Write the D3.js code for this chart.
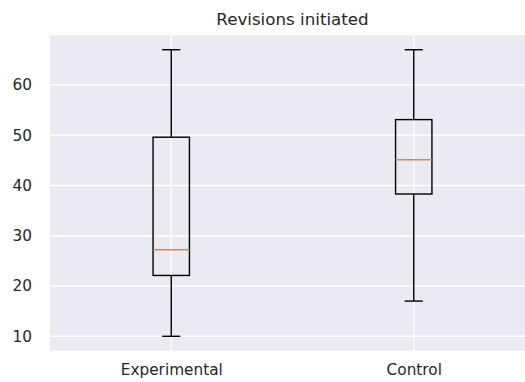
<!DOCTYPE html>
<html>
<head>
<meta charset="utf-8">
<script src="https://cdn.jsdelivr.net/npm/d3@7"></script>
<style>
  body { margin: 0; background: #fff; }
  svg { display: block; font-family: "DejaVu Sans", sans-serif; }
</style>
</head>
<body>
<div id="chart"></div>
<script>
var categories = ["Experimental", "Control"];
var whiskerLow = [10, 17];
var q1 = [22.1, 38.3];
var medians = [27.2, 45.1];
var q3 = [49.6, 53.1];
var whiskerHigh = [67, 67];
var yTicks = [10, 20, 30, 40, 50, 60];

var width = 525,
    height = 382;

var boxes = categories.map(function(c, i) {
    return {name: c, pos: i + 1, lo: whiskerLow[i], q1: q1[i], med: medians[i], q3: q3[i], hi: whiskerHigh[i]};
});

// matplotlib style limits: positions 1..n with 0.5 padding, 5% y margin
var yMin = d3.min(whiskerLow), yMax = d3.max(whiskerHigh);
var pad = (yMax - yMin) * 0.05;

var x = d3.scaleLinear().domain([0.5, categories.length + 0.5]).range([50, 535]);
var y = d3.scaleLinear().domain([yMin - pad, yMax + pad]).range([350.6, 35.4]);

var svg = d3.select("#chart").append("svg")
    .attr("width", width)
    .attr("height", height);

svg.append("rect")
    .attr("x", x.range()[0])
    .attr("y", y.range()[1])
    .attr("width", x.range()[1] - x.range()[0])
    .attr("height", y.range()[0] - y.range()[1])
    .attr("fill", "#eaeaf2");

// grid
svg.append("g").selectAll("line")
    .data(yTicks)
  .enter().append("line")
    .attr("x1", x.range()[0]).attr("x2", x.range()[1])
    .attr("y1", function(d) { return y(d); })
    .attr("y2", function(d) { return y(d); })
    .attr("stroke", "#fff")
    .attr("stroke-width", 1.4);

svg.append("g").selectAll("line")
    .data(boxes)
  .enter().append("line")
    .attr("x1", function(d) { return x(d.pos); })
    .attr("x2", function(d) { return x(d.pos); })
    .attr("y1", y.range()[0]).attr("y2", y.range()[1])
    .attr("stroke", "#fff")
    .attr("stroke-width", 1.4);

// axes (no tick marks, just labels)
var yAxis = svg.append("g")
    .attr("transform", "translate(" + x.range()[0] + ",0)")
    .call(d3.axisLeft(y).tickValues(yTicks).tickSize(0).tickPadding(18));
var xAxis = svg.append("g")
    .attr("transform", "translate(0," + y.range()[0] + ")")
    .call(d3.axisBottom(x).tickValues(boxes.map(function(d) { return d.pos; }))
        .tickFormat(function(d) { return categories[d - 1]; })
        .tickSize(0).tickPadding(14));
[xAxis, yAxis].forEach(function(a) {
    a.select(".domain").remove();
    a.selectAll("text")
        .attr("fill", "#262626")
        .style("font-size", "15.3px")
        .style("font-family", "DejaVu Sans");
});

// boxes
var bw = 0.15, cw = 0.075;
var g = svg.append("g").selectAll("g")
    .data(boxes)
  .enter().append("g");

g.append("line")
    .attr("x1", function(d) { return x(d.pos); })
    .attr("x2", function(d) { return x(d.pos); })
    .attr("y1", function(d) { return y(d.lo); })
    .attr("y2", function(d) { return y(d.q1); });
g.append("line")
    .attr("x1", function(d) { return x(d.pos); })
    .attr("x2", function(d) { return x(d.pos); })
    .attr("y1", function(d) { return y(d.q3); })
    .attr("y2", function(d) { return y(d.hi); });
g.append("line")
    .attr("x1", function(d) { return x(d.pos - cw / 2); })
    .attr("x2", function(d) { return x(d.pos + cw / 2); })
    .attr("y1", function(d) { return y(d.lo); })
    .attr("y2", function(d) { return y(d.lo); });
g.append("line")
    .attr("x1", function(d) { return x(d.pos - cw / 2); })
    .attr("x2", function(d) { return x(d.pos + cw / 2); })
    .attr("y1", function(d) { return y(d.hi); })
    .attr("y2", function(d) { return y(d.hi); });
g.append("rect")
    .attr("x", function(d) { return x(d.pos - bw / 2); })
    .attr("width", function(d) { return x(d.pos + bw / 2) - x(d.pos - bw / 2); })
    .attr("y", function(d) { return y(d.q3); })
    .attr("height", function(d) { return y(d.q1) - y(d.q3); })
    .attr("fill", "none");
g.selectAll("line, rect")
    .attr("stroke", "#000")
    .attr("stroke-width", 1.4);
g.append("line")
    .attr("x1", function(d) { return x(d.pos - bw / 2); })
    .attr("x2", function(d) { return x(d.pos + bw / 2); })
    .attr("y1", function(d) { return y(d.med); })
    .attr("y2", function(d) { return y(d.med); })
    .attr("stroke", "#dd8452")
    .attr("stroke-width", 1.4);

svg.append("text")
    .attr("x", (x.range()[0] + x.range()[1]) / 2)
    .attr("y", 25)
    .attr("text-anchor", "middle")
    .attr("fill", "#262626")
    .style("font-size", "16.7px")
    .text("Revisions initiated");
</script>
</body>
</html>
